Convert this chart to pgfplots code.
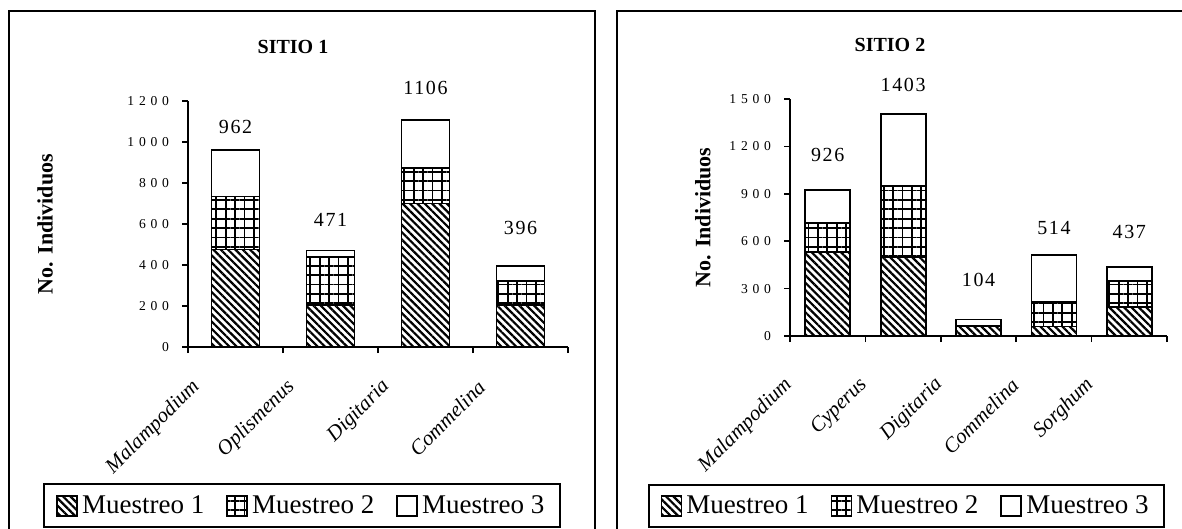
\documentclass[border=0pt]{standalone}
\usepackage{pgfplots}
\pgfplotsset{compat=1.18}
\usepackage{fontspec}
\setmainfont{Liberation Serif}
\usetikzlibrary{patterns.meta}
\newfontfamily\ytickf[LetterSpace=35]{Liberation Serif}
\newfontfamily\numf[LetterSpace=8]{Liberation Serif}

\pgfplotsset{
  m1/.style={draw=black, line width=0.9bp, pattern={Lines[angle=-45,distance=2.6bp,line width=1.1bp]}},
  m2/.style={draw=black, line width=0.9bp, pattern={Hatch[distance=4.7bp,line width=0.9bp]}},
  m3/.style={draw=black, line width=0.9bp, fill=white},
  common/.style={
    scale only axis,
    ybar stacked,
    axis x line*=bottom, axis y line*=left,
    axis line style={line width=1bp,-},
    ymin=0,
    clip=false,
    tick align=outside,
    major tick length=3bp,
    minor tick length=3bp,
    tick style={line width=0.8bp, black},
    major x tick style={draw=none},
    minor x tick style={line width=0.8bp, black},
    /pgf/number format/assume math mode=true,
    /pgf/number format/1000 sep={},
    yticklabel style={font=\ytickf\fontsize{6.8bp}{7bp}\selectfont, xshift=-3bp},
    legend image code/.code={\draw[##1] (0bp,-5bp) rectangle (10bp,5bp);},
    legend columns=3,
    legend style={draw=black, line width=1bp, inner xsep=6bp, inner ysep=3.5bp,
      font=\fontsize{13.5bp}{15bp}\selectfont, anchor=center,
      /tikz/every even column/.append style={column sep=9bp}},
    every axis y label/.style={rotate=90, anchor=center, font=\bfseries\fontsize{11bp}{12bp}\selectfont},
  }
}

\begin{document}
\begin{tikzpicture}
\useasboundingbox (0bp,0bp) rectangle (591bp,264.5bp);
% panel frames
\draw[line width=1.3bp] (4.5bp,-5bp) -- (4.5bp,259bp) -- (297.5bp,259bp) -- (297.5bp,-5bp);
\draw[line width=1.3bp] (308.5bp,-5bp) -- (308.5bp,259bp) -- (600bp,259bp) -- (600bp,-5bp);

% ---------------- SITIO 1 ----------------
\begin{axis}[common,
  at={(94bp,91bp)}, anchor=south west,
  width=190bp, height=123bp,
  bar width=24bp,
  xmin=-0.5, xmax=3.5,
  ymax=1200,
  ytick={0,200,400,600,800,1000,1200},
  xtick={0,1,2,3},
  minor xtick={-0.5,0.5,1.5,2.5,3.5},
  xticklabels={Malampodium,Oplismenus,Digitaria,Commelina},
  xticklabel style={font=\itshape\fontsize{10.5bp}{11bp}\selectfont, xshift=-17bp, yshift=-13bp, rotate=45, anchor=east},
  ylabel={No. Individuos},
  every axis y label/.append style={at={(axis description cs:-0.376,0.5)}},
  legend style={at={(axis description cs:0.301,-0.646)}},
]
\addplot[m1] coordinates {(0,476) (1,205) (2,700) (3,205)};
\addplot[m2] coordinates {(0,258) (1,235) (2,175) (3,115)};
\addplot[m3] coordinates {(0,228) (1,31) (2,231) (3,76)};
\legend{Muestreo 1,Muestreo 2,Muestreo 3}
\node[font=\numf\fontsize{10bp}{12bp}\selectfont] at (axis cs:0,1073) {962};
\node[font=\numf\fontsize{10bp}{12bp}\selectfont] at (axis cs:1,620) {471};
\node[font=\numf\fontsize{10bp}{12bp}\selectfont] at (axis cs:2,1263) {1106};
\node[font=\numf\fontsize{10bp}{12bp}\selectfont] at (axis cs:3,580) {396};
\end{axis}
\node[font=\bfseries\fontsize{10bp}{12bp}\selectfont] at (146.5bp,241bp) {SITIO 1};

% ---------------- SITIO 2 ----------------
\begin{axis}[common,
  at={(395bp,96.5bp)}, anchor=south west,
  width=188.5bp, height=118.5bp,
  bar width=22.5bp,
  xmin=-0.5, xmax=4.5,
  ymax=1500,
  ytick={0,300,600,900,1200,1500},
  xtick={0,1,2,3,4},
  minor xtick={-0.5,0.5,1.5,2.5,3.5,4.5},
  xticklabels={Malampodium,Cyperus,Digitaria,Commelina,Sorghum},
  xticklabel style={font=\itshape\fontsize{10.5bp}{11bp}\selectfont, xshift=-17bp, yshift=-17.5bp, rotate=45, anchor=east},
  ylabel={No. Individuos},
  every axis y label/.append style={at={(axis description cs:-0.231,0.5)}},
  legend style={at={(axis description cs:0.309,-0.717)}},
]
\addplot[m1] coordinates {(0,532) (1,500) (2,62) (3,60) (4,185)};
\addplot[m2] coordinates {(0,183) (1,450) (2,0) (3,155) (4,165)};
\addplot[m3] coordinates {(0,211) (1,453) (2,42) (3,299) (4,87)};
\legend{Muestreo 1,Muestreo 2,Muestreo 3}
\node[font=\numf\fontsize{10bp}{12bp}\selectfont] at (axis cs:0,1146) {926};
\node[font=\numf\fontsize{10bp}{12bp}\selectfont] at (axis cs:1,1589) {1403};
\node[font=\numf\fontsize{10bp}{12bp}\selectfont] at (axis cs:2,354) {104};
\node[font=\numf\fontsize{10bp}{12bp}\selectfont] at (axis cs:3,684) {514};
\node[font=\numf\fontsize{10bp}{12bp}\selectfont] at (axis cs:4,658) {437};
\end{axis}
\node[font=\bfseries\fontsize{10bp}{12bp}\selectfont] at (445bp,242bp) {SITIO 2};
\end{tikzpicture}
\end{document}
